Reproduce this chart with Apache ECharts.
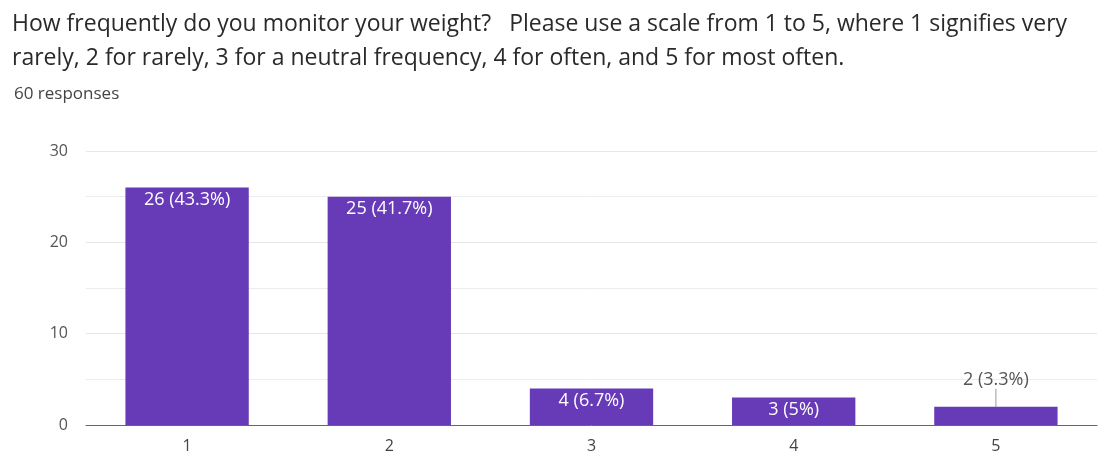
<!DOCTYPE html>
<html>
<head>
<meta charset="utf-8">
<script src="https://cdn.jsdelivr.net/npm/echarts@6/dist/echarts.min.js"></script>
<style>
  html, body { margin: 0; padding: 0; background: #fff; }
  #chart { width: 1108px; height: 467px; }
</style>
</head>
<body>
<div id="chart"></div>
<script>
var categories = ['1', '2', '3', '4', '5'];
var counts = [26, 25, 4, 3, 2];
var percents = ['43.3%', '41.7%', '6.7%', '5%', '3.3%'];
var titleLines = [
    'How frequently do you monitor your weight?   Please use a scale from 1 to 5, where 1 signifies very',
    'rarely, 2 for rarely, 3 for a neutral frequency, 4 for often, and 5 for most often.'
];
var responses = '60 responses';

var myChart = echarts.init(document.getElementById('chart'));

// small bars get their label outside, above the bar
var barData = counts.map(function (v, i) {
    if (v < 3) {
        return {
            value: v,
            label: { position: 'top', distance: 2, color: '#555' },
            labelLine: { show: true, lineStyle: { color: '#999', width: 1 } }
        };
    }
    return v;
});

var option = {
    backgroundColor: '#fff',
    textStyle: { fontFamily: '"Open Sans", Roboto, sans-serif' },
    title: [{
        left: 7,
        top: 2,
        text: titleLines.join('\n'),
        textStyle: { fontSize: 23, fontWeight: 'normal', color: '#2a2a2a', lineHeight: 34,
            fontFamily: '"Open Sans", sans-serif' }
    }, {
        left: 9,
        top: 81,
        text: responses,
        textStyle: { fontSize: 17, fontWeight: 'normal', color: '#444',
            fontFamily: '"Open Sans", sans-serif' }
    }],
    grid: { left: 86, right: 11, top: 151, bottom: 42 },
    xAxis: {
        type: 'category',
        data: categories,
        axisTick: { show: false },
        axisLine: { lineStyle: { color: '#666', width: 1 } },
        axisLabel: { color: '#444', fontSize: 16, margin: 13 }
    },
    yAxis: {
        type: 'value',
        min: 0,
        max: 30,
        interval: 10,
        axisLabel: { color: '#555', fontSize: 16, margin: 18 },
        splitLine: { lineStyle: { color: '#e6e6e6' } },
        minorTick: { show: false, splitNumber: 2 },
        minorSplitLine: { show: true, lineStyle: { color: '#ececec' } }
    },
    series: [{
        type: 'bar',
        data: barData,
        barWidth: '61%',
        itemStyle: { color: '#673ab7' },
        label: {
            show: true,
            position: 'insideTop',
            distance: 3,
            color: '#fff',
            fontSize: 18,
            formatter: function (p) {
                return p.value + ' (' + percents[p.dataIndex] + ')';
            }
        },
        labelLine: { show: false },
        labelLayout: function (p) {
            if (counts[p.dataIndex] < 3) {
                return { dy: -16 };
            }
            return {};
        }
    }]
};

myChart.setOption(option);
</script>
</body>
</html>
